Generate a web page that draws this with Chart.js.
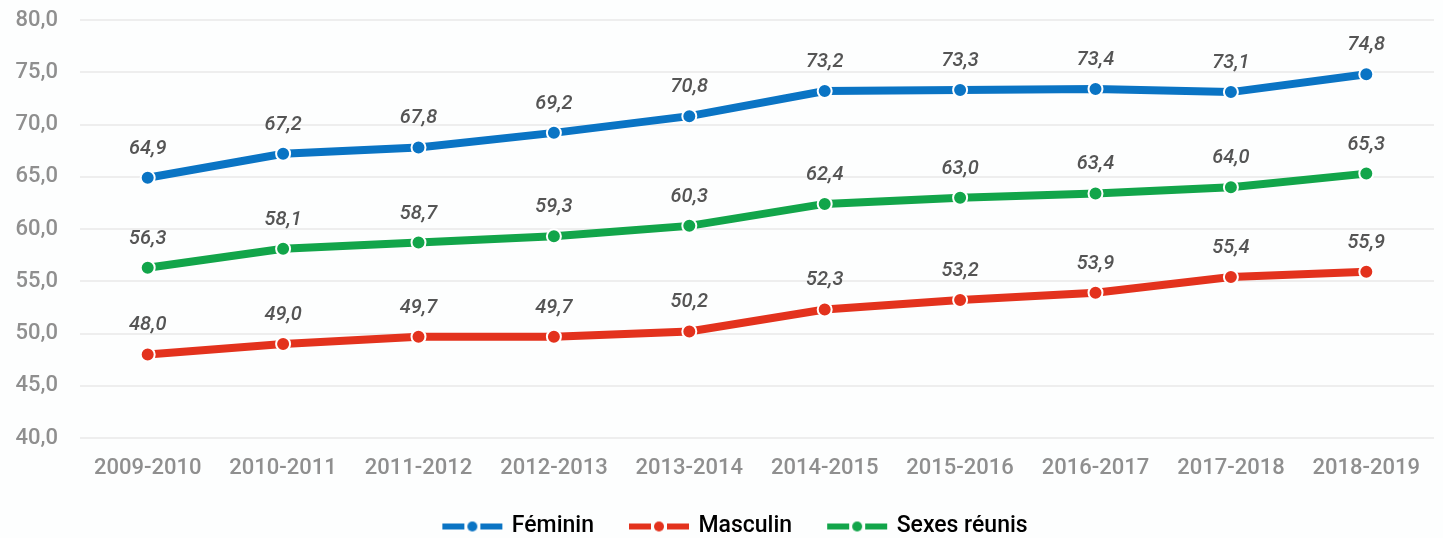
<!DOCTYPE html>
<html><head><meta charset="utf-8">
<script src="https://cdn.jsdelivr.net/npm/chart.js@4/dist/chart.umd.min.js"></script>
<style>html,body{margin:0;padding:0;background:#fdfefe;}#wrap{width:1443px;height:538px;}</style>
</head><body><div id="wrap"><canvas id="c" width="1443" height="538"></canvas></div>
<script>
const categories = ["2009-2010","2010-2011","2011-2012","2012-2013","2013-2014","2014-2015","2015-2016","2016-2017","2017-2018","2018-2019"];
const feminin = [64.9,67.2,67.8,69.2,70.8,73.2,73.3,73.4,73.1,74.8];
const masculin = [48.0,49.0,49.7,49.7,50.2,52.3,53.2,53.9,55.4,55.9];
const sexesReunis = [56.3,58.1,58.7,59.3,60.3,62.4,63.0,63.4,64.0,65.3];
const seriesNames = ["Féminin","Masculin","Sexes réunis"];
const colors = ["#0a74c4","#e3321d","#12a54a"];

const fmt = v => v.toFixed(1).replace('.', ',');

function legendIcon(color){
  const c = document.createElement('canvas');
  c.width = 101; c.height = 14;
  const g = c.getContext('2d');
  const o = 39;
  g.fillStyle = color;
  g.fillRect(o,4,22,6);
  g.fillRect(o+38,4,22,6);
  g.beginPath(); g.arc(o+30,7,5,0,Math.PI*2); g.fill();
  return c;
}

const labelPlugin = {
  id:'valueLabels',
  afterDatasetsDraw(chart){
    const ctx = chart.ctx;
    ctx.save();
    ctx.font = 'italic 500 20px Roboto';
    ctx.fillStyle = '#555';
    ctx.textAlign = 'center';
    ctx.textBaseline = 'middle';
    chart.data.datasets.forEach((ds,i)=>{
      const meta = chart.getDatasetMeta(i);
      meta.data.forEach((pt,j)=>{
        ctx.fillText(fmt(ds.data[j]), pt.x, pt.y - 29);
      });
    });
    ctx.restore();
  }
};

const mk = (label,data,color) => ({
  label, data,
  borderColor: color, backgroundColor: color,
  borderWidth: 8,
  pointRadius: 7, pointHoverRadius: 7,
  pointBackgroundColor: color,
  pointBorderColor: '#ffffff', pointBorderWidth: 2,
  tension: 0,
  pointStyle: 'circle'
});

new Chart(document.getElementById('c'), {
  type:'line',
  data:{
    labels: categories,
    datasets:[
      mk(seriesNames[0], feminin, colors[0]),
      mk(seriesNames[1], masculin, colors[1]),
      mk(seriesNames[2], sexesReunis, colors[2])
    ]
  },
  options:{
    responsive:false, animation:false,
    layout:{padding:{top:20,right:8,left:0,bottom:-10}},
    plugins:{
      legend:{
        position:'bottom',
        labels:{
          font:{family:'Roboto',size:23,weight:'500'},
          color:'#222',
          padding:0,
          pointStyleWidth:93,
          generateLabels(chart){
            return chart.data.datasets.map((ds,i)=>({
              text: ds.label, fillStyle: ds.borderColor, strokeStyle: ds.borderColor,
              pointStyle: legendIcon(ds.borderColor), datasetIndex: i, lineWidth:0, hidden:false
            }));
          },
          usePointStyle:true
        }
      },
      tooltip:{enabled:false}
    },
    scales:{
      x:{
        offset:true,
        afterFit(s){ s.height = 77; },
        grid:{display:false, drawTicks:false},
        border:{display:false},
        ticks:{font:{family:'Roboto',size:22,weight:'500'},color:'#8f8f8f',padding:17,maxRotation:0,autoSkip:false}
      },
      y:{
        min:40,max:80,
        afterFit(s){ s.width = 80; },
        grid:{color:'#eeeeee', lineWidth:2, drawTicks:true, tickLength:22, tickColor:'rgba(0,0,0,0)'},
        border:{display:false},
        ticks:{stepSize:5,font:{family:'Roboto',size:22,weight:'500'},color:'#8f8f8f',padding:0,callback:v=>fmt(v)}
      }
    }
  },
  plugins:[labelPlugin]
});
</script></body></html>
